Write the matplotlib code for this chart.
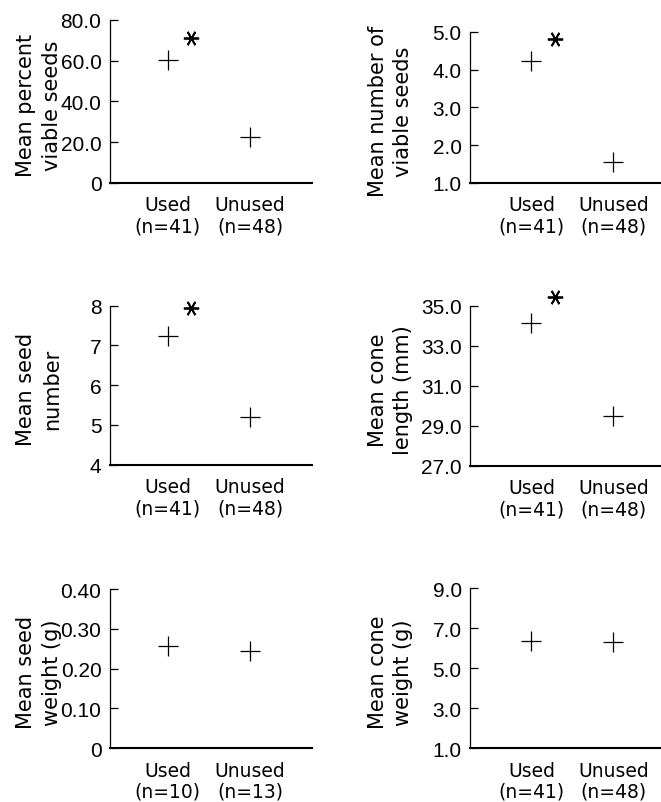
import matplotlib
matplotlib.use("Agg")
import matplotlib.pyplot as plt

# ---------- data ----------
groups_a = ["Used\n(n=41)", "Unused\n(n=48)"]
groups_b = ["Used\n(n=10)", "Unused\n(n=13)"]

pct_viable = [60.4, 22.6]
pct_viable_star = 71.2
num_viable = [4.22, 1.55]
num_viable_star = 4.81
seed_num = [7.25, 5.2]
seed_num_star = 7.95
cone_len = [34.15, 29.5]
cone_len_star = 35.45
seed_wt = [0.256, 0.244]
cone_wt = [6.35, 6.3]

panels = [
    ("Mean percent\nviable seeds", groups_a, pct_viable, pct_viable_star,
     [0, 20, 40, 60, 80], ["0", "20.0", "40.0", "60.0", "80.0"]),
    ("Mean number of\nviable seeds", groups_a, num_viable, num_viable_star,
     [1, 2, 3, 4, 5], ["1.0", "2.0", "3.0", "4.0", "5.0"]),
    ("Mean seed\nnumber", groups_a, seed_num, seed_num_star,
     [4, 5, 6, 7, 8], ["4", "5", "6", "7", "8"]),
    ("Mean cone\nlength (mm)", groups_a, cone_len, cone_len_star,
     [27, 29, 31, 33, 35], ["27.0", "29.0", "31.0", "33.0", "35.0"]),
    ("Mean seed\nweight (g)", groups_b, seed_wt, None,
     [0, 0.1, 0.2, 0.3, 0.4], ["0", "0.10", "0.20", "0.30", "0.40"]),
    ("Mean cone\nweight (g)", groups_a, cone_wt, None,
     [1, 3, 5, 7, 9], ["1.0", "3.0", "5.0", "7.0", "9.0"]),
]

# axes boxes in figure fraction: left, bottom, width, height
boxes = [
    (0.166, 0.771, 0.306, 0.203),
    (0.711, 0.771, 0.300, 0.188),
    (0.166, 0.420, 0.306, 0.198),
    (0.711, 0.419, 0.300, 0.199),
    (0.166, 0.067, 0.306, 0.198),
    (0.711, 0.067, 0.300, 0.199),
]

plt.rcParams["font.family"] = "DejaVu Sans"

fig = plt.figure(figsize=(6.61, 8.03), dpi=100)

for i, ((label, groups, vals, star, ticks, tlabels), box) in enumerate(zip(panels, boxes)):
    ax = fig.add_axes(box)
    xs = range(len(vals))
    ax.plot(xs, vals, ls="none", marker="+", ms=15, mew=0.9, color="black", clip_on=False)
    if star is not None:
        # asterisk = significant difference
        ax.plot([0.29], [star], ls="none", marker=(6, 2, 90), ms=11, mew=1.3,
                color="black", clip_on=False)
    ax.set_ylim(ticks[0], ticks[-1])
    ax.set_yticks(ticks)
    ax.set_yticklabels(tlabels, family="Liberation Sans", fontsize=15)
    left = i % 2 == 0
    ax.set_xlim(-0.70, 1.75) if left else ax.set_xlim(-0.75, 1.67)
    ax.set_xticks(list(xs))
    ax.set_xticklabels(groups, linespacing=1.15, fontsize=13.5)
    ax.tick_params(axis="x", length=0, pad=9)
    ax.tick_params(axis="y", direction="in", length=6, width=0.9, pad=6)
    for s in ("top", "right"):
        ax.spines[s].set_visible(False)
    ax.spines["left"].set_linewidth(0.9)
    ax.spines["bottom"].set_linewidth(1.5)
    ax.set_ylabel(label, va="center", ha="center", linespacing=1.35, fontsize=15)
    ax.yaxis.set_label_coords(-0.35 if left else -0.40, 0.48)

fig.savefig("out.png", dpi=100)
